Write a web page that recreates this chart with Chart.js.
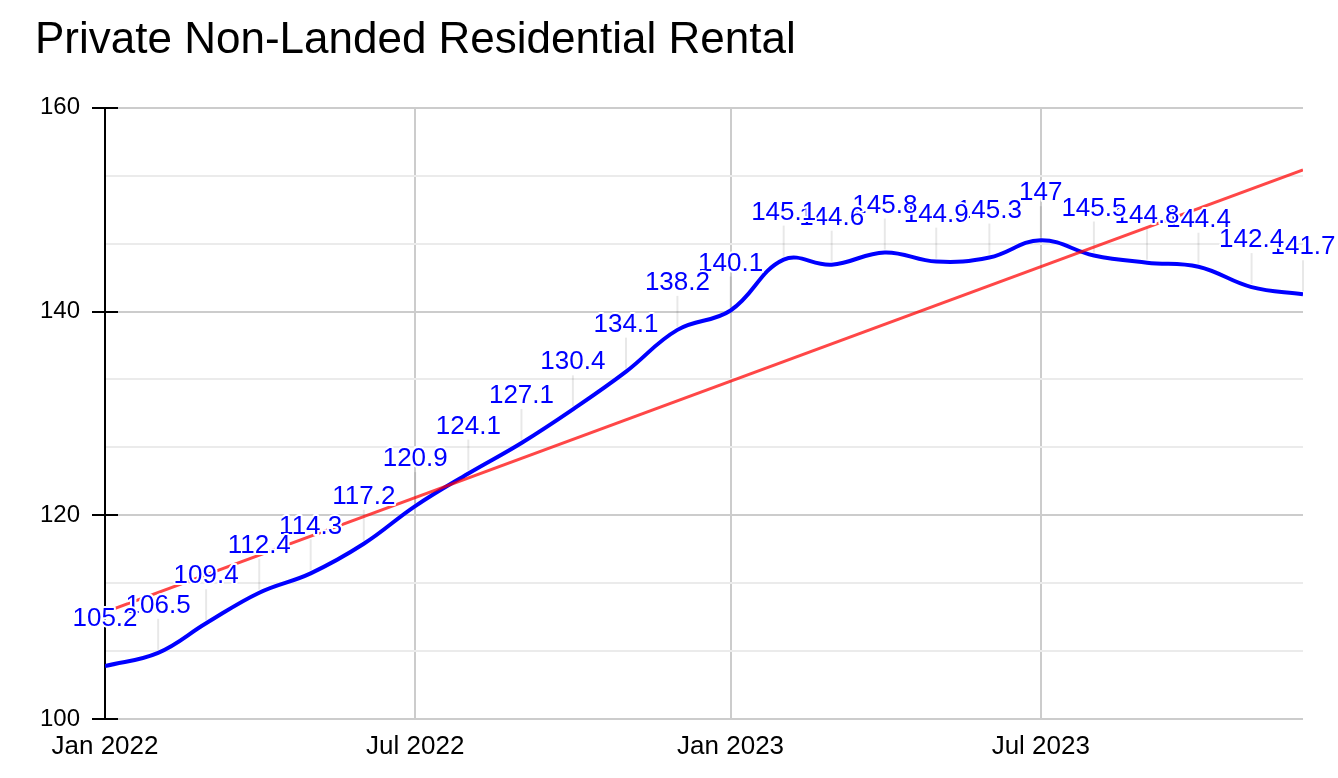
<!DOCTYPE html>
<html lang="en">
<head>
  <meta charset="UTF-8">
  <title>Private Non-Landed Residential Rental</title>
  <script src="https://cdn.jsdelivr.net/npm/chart.js"></script>
  <style>
    html, body { margin: 0; padding: 0; background: #fff; }
    .wrap { width: 1338px; height: 778px; }
  </style>
</head>
<body>
  <div class="wrap"><canvas id="rental"></canvas></div>
  <script>
    // rental index, monthly
    const months = ['2022-01', '2022-02', '2022-03', '2022-04', '2022-05', '2022-06',
      '2022-07', '2022-08', '2022-09', '2022-10', '2022-11', '2022-12',
      '2023-01', '2023-02', '2023-03', '2023-04', '2023-05', '2023-06',
      '2023-07', '2023-08', '2023-09', '2023-10', '2023-11', '2023-12'];
    const rental = [105.2, 106.5, 109.4, 112.4, 114.3, 117.2, 120.9, 124.1, 127.1, 130.4, 134.1, 138.2,
      140.1, 145.1, 144.6, 145.8, 144.9, 145.3, 147, 145.5, 144.8, 144.4, 142.4, 141.7];
    // trend line ends
    const trendMonths = ['2022-01', '2023-12'];
    const trendValues = [110.5, 153.9];

    const xTickMonths = ['2022-01', '2022-07', '2023-01', '2023-07'];
    const xTickLabels = ['Jan 2022', 'Jul 2022', 'Jan 2023', 'Jul 2023'];
    const yMajor = [100, 120, 140, 160];

    const FONT = '"Liberation Sans", Arial, sans-serif';
    const start = Date.UTC(2022, 0, 1);
    function dayOf(m) {
      const p = m.split('-');
      return (Date.UTC(+p[0], +p[1] - 1, 1) - start) / 86400000;
    }

    // gridlines: 3 steps between labelled ticks
    const yGrid = [];
    for (let i = 0; i < yMajor.length - 1; i++) {
      const step = (yMajor[i + 1] - yMajor[i]) / 3;
      yGrid.push(yMajor[i], yMajor[i] + step, yMajor[i] + 2 * step);
    }
    yGrid.push(yMajor[yMajor.length - 1]);
    const isMajor = v => yMajor.some(m => Math.abs(m - v) < 1e-6);

    const mainData = months.map((m, i) => ({ x: dayOf(m), y: rental[i] }));
    const trendData = trendMonths.map((m, i) => ({ x: dayOf(m), y: trendValues[i] }));

    const labelsPlugin = {
      id: 'labels',
      beforeDatasetsDraw(chart) {
        const ctx = chart.ctx;
        const meta = chart.getDatasetMeta(0);
        ctx.save();
        ctx.strokeStyle = 'rgba(0,0,0,0.09)';
        ctx.lineWidth = 2;
        meta.data.forEach(pt => {
          ctx.beginPath();
          ctx.moveTo(pt.x, pt.y - 3);
          ctx.lineTo(pt.x, pt.y - 34);
          ctx.stroke();
        });
        ctx.restore();
      },
      afterDatasetsDraw(chart) {
        const ctx = chart.ctx;
        const meta = chart.getDatasetMeta(0);
        ctx.save();
        ctx.font = '26px ' + FONT;
        ctx.textAlign = 'center';
        ctx.textBaseline = 'middle';
        ctx.lineJoin = 'round';
        // last label first, so earlier ones sit on top
        for (let i = meta.data.length - 1; i >= 0; i--) {
          const pt = meta.data[i];
          const txt = String(rental[i]);
          ctx.strokeStyle = '#fff';
          ctx.lineWidth = 4;
          ctx.strokeText(txt, pt.x, pt.y - 47);
          ctx.fillStyle = '#0000ff';
          ctx.fillText(txt, pt.x, pt.y - 47);
        }
        // black tick marks crossing the axis
        const y = chart.scales.y, left = chart.chartArea.left;
        ctx.strokeStyle = '#000';
        ctx.lineWidth = 2;
        yMajor.forEach(v => {
          const py = Math.round(y.getPixelForValue(v));
          ctx.beginPath();
          ctx.moveTo(left - 13, py);
          ctx.lineTo(left + 13, py);
          ctx.stroke();
        });
        ctx.restore();
      }
    };

    new Chart(document.getElementById('rental'), {
      type: 'line',
      data: {
        datasets: [{
          label: 'Rental',
          data: mainData,
          borderColor: '#0000ff',
          borderWidth: 4,
          pointRadius: 0,
          tension: 0.4,
          order: 2
        }, {
          label: 'Trend',
          data: trendData,
          borderColor: 'rgba(255,0,0,0.72)',
          borderWidth: 3,
          pointRadius: 0,
          order: 1
        }]
      },
      options: {
        responsive: true,
        maintainAspectRatio: false,
        animation: false,
        layout: { padding: { left: 35, right: 35, top: 0, bottom: 0 } },
        plugins: {
          legend: { display: false },
          tooltip: { enabled: false },
          title: {
            display: true,
            text: 'Private Non-Landed Residential Rental',
            align: 'start',
            color: '#000',
            font: { family: FONT, size: 44, weight: 'normal', lineHeight: 1.2 },
            padding: { top: 14, bottom: 41 }
          }
        },
        scales: {
          x: {
            type: 'linear',
            min: dayOf(months[0]),
            max: dayOf(months[months.length - 1]),
            afterBuildTicks: s => { s.ticks = xTickMonths.map(m => ({ value: dayOf(m) })); },
            afterFit: s => { s.height = 59; },
            ticks: {
              autoSkip: false,
              maxRotation: 0,
              padding: 12,
              color: '#000',
              font: { family: FONT, size: 26 },
              callback: (v, i) => xTickLabels[i]
            },
            grid: {
              color: '#cccccc',
              lineWidth: 2,
              drawTicks: false
            },
            border: { display: false }
          },
          y: {
            min: 100,
            max: 160,
            afterBuildTicks: s => { s.ticks = yGrid.map(v => ({ value: v })); },
            afterFit: s => { s.width = 70; },
            ticks: {
              padding: 12,
              color: '#000',
              font: { family: FONT, size: 24 },
              callback: v => isMajor(v) ? Math.round(v) : ''
            },
            grid: {
              color: c => isMajor(c.tick.value) ? '#cccccc' : '#ebebeb',
              lineWidth: 2,
              tickLength: 13,
              tickColor: c => isMajor(c.tick.value) ? '#000' : 'rgba(0,0,0,0)'
            },
            border: { display: true, color: '#000', width: 2 }
          }
        }
      },
      plugins: [labelsPlugin]
    });
  </script>
</body>
</html>
